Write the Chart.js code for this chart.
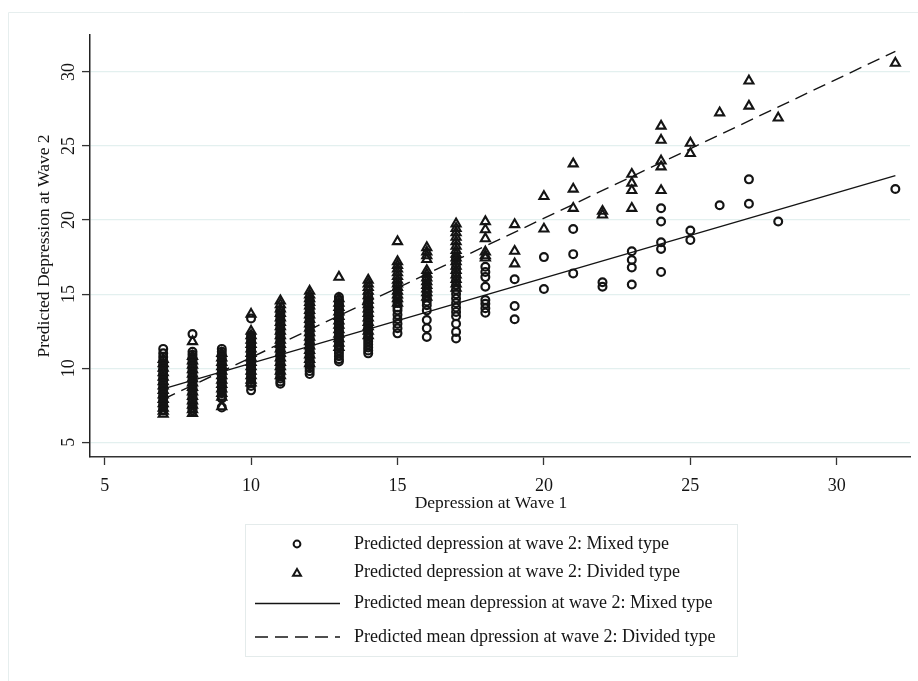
<!DOCTYPE html>
<html>
<head>
<meta charset="utf-8">
<script src="https://cdn.jsdelivr.net/npm/chart.js@4.4.1/dist/chart.umd.min.js"></script>
<style>
  html, body { margin: 0; padding: 0; background: #ffffff; }
  canvas { display: block; }
</style>
</head>
<body>
<canvas id="chart" width="918" height="681"></canvas>
<script>
// Depression score at wave 1 (x) for each column of predictions
const wave1Scores = [7, 8, 9, 10, 11, 12, 13, 14, 15, 16, 17, 18, 19, 20, 21, 22, 23, 24, 25, 26, 27, 28, 32];

// Predicted depression at wave 2, mixed type (one list per wave-1 score)
const mixedWave2 = [
  [11.3, 11.0, 10.75, 10.5, 10.3, 10.1, 9.9, 9.75, 9.55, 9.35, 9.15, 8.95, 8.75, 8.55, 8.35, 8.15, 7.95, 7.75, 7.55, 7.35, 7.15],
  [12.3, 11.1, 10.9, 10.7, 10.5, 10.3, 10.1, 9.9, 9.7, 9.5, 9.3, 9.1, 8.9, 8.7, 8.5, 8.3, 8.1, 7.9, 7.7, 7.5, 7.3, 7.15],
  [11.3, 11.1, 10.9, 10.7, 10.5, 10.3, 10.1, 9.9, 9.7, 9.5, 9.3, 9.1, 8.9, 8.7, 8.5, 8.3, 8.1, 7.95, 7.35],
  [13.35, 12.2, 12.0, 11.8, 11.6, 11.4, 11.2, 11.0, 10.8, 10.6, 10.4, 10.2, 10.0, 9.8, 9.6, 9.4, 9.2, 9.0, 8.8, 8.5],
  [13.9, 13.7, 13.5, 13.3, 13.1, 12.9, 12.7, 12.5, 12.3, 12.1, 11.9, 11.7, 11.5, 11.3, 11.1, 10.9, 10.7, 10.5, 10.3, 10.1, 9.9, 9.7, 9.5, 9.3, 9.1, 8.95],
  [14.6, 14.4, 14.2, 14.0, 13.8, 13.6, 13.4, 13.2, 13.0, 12.8, 12.6, 12.4, 12.2, 12.0, 11.8, 11.6, 11.4, 11.2, 11.0, 10.8, 10.6, 10.4, 10.2, 10.0, 9.8, 9.6],
  [14.8, 14.6, 14.4, 14.2, 14.0, 13.8, 13.6, 13.4, 13.2, 13.0, 12.8, 12.6, 12.4, 12.2, 12.0, 11.8, 11.6, 11.4, 11.2, 11.0, 10.8, 10.6, 10.45],
  [15.0, 14.8, 14.6, 14.4, 14.2, 14.0, 13.8, 13.6, 13.4, 13.2, 13.0, 12.8, 12.6, 12.4, 12.2, 12.0, 11.8, 11.6, 11.4, 11.2, 11.0],
  [15.6, 15.3, 15.0, 14.7, 14.4, 14.1, 13.9, 13.6, 13.3, 13.0, 12.7, 12.35],
  [16.0, 15.7, 15.4, 15.1, 14.8, 14.5, 14.25, 13.9, 13.25, 12.7, 12.1],
  [17.4, 17.1, 16.8, 16.5, 16.2, 15.9, 15.6, 15.3, 15.0, 14.7, 14.4, 14.1, 13.8, 13.5, 13.0, 12.45, 12.0],
  [16.85, 16.5, 16.15, 15.5, 14.6, 14.35, 14.05, 13.75],
  [16.0, 14.2, 13.3],
  [17.5, 15.35],
  [19.4, 17.7, 16.4],
  [15.8, 15.5],
  [17.9, 17.3, 16.8, 15.65],
  [20.8, 19.9, 18.5, 18.05, 16.5],
  [19.3, 18.65],
  [21.0],
  [22.75, 21.1],
  [19.9],
  [22.1]
];

// Predicted depression at wave 2, divided type (one list per wave-1 score)
const dividedWave2 = [
  [10.6, 10.3, 10.0, 9.7, 9.4, 9.1, 8.8, 8.5, 8.2, 7.9, 7.6, 7.3, 7.1, 6.9],
  [11.8, 10.8, 10.5, 10.2, 9.9, 9.6, 9.3, 9.0, 8.7, 8.4, 8.1, 7.8, 7.5, 7.2, 6.95],
  [11.0, 10.7, 10.4, 10.1, 9.8, 9.5, 9.2, 8.9, 8.6, 8.3, 8.05, 7.4],
  [13.65, 12.5, 12.2, 11.9, 11.6, 11.3, 11.0, 10.7, 10.4, 10.1, 9.8, 9.5, 9.2, 9.0],
  [14.55, 14.3, 14.0, 13.7, 13.4, 13.1, 12.8, 12.5, 12.2, 11.9, 11.6, 11.3, 11.0, 10.7, 10.4, 10.1, 9.8, 9.5],
  [15.2, 14.95, 14.7, 14.45, 14.2, 13.9, 13.6, 13.3, 13.0, 12.7, 12.4, 12.1, 11.8, 11.5, 11.2, 10.9, 10.6, 10.3],
  [16.15, 14.7, 14.4, 14.1, 13.8, 13.5, 13.2, 12.9, 12.6, 12.3, 12.0, 11.7, 11.4],
  [15.95, 15.7, 15.45, 15.2, 14.9, 14.6, 14.3, 14.0, 13.7, 13.4, 13.1, 12.8, 12.5, 12.2],
  [18.55, 17.2, 16.95, 16.7, 16.45, 16.2, 15.95, 15.7, 15.45, 15.2, 14.95, 14.7, 14.4],
  [18.15, 17.85, 17.6, 17.35, 16.6, 16.35, 16.1, 15.85, 15.6, 15.35, 15.1, 14.8],
  [19.75, 19.45, 19.15, 18.85, 18.55, 18.25, 17.95, 17.7, 17.45, 17.2, 16.9, 16.6, 16.3, 16.0, 15.7, 15.4],
  [19.9, 19.35, 18.75, 17.85, 17.6, 17.45],
  [19.7, 17.9, 17.05],
  [21.6, 19.4],
  [23.8, 22.1, 20.8],
  [20.6, 20.35],
  [23.1, 22.5, 22.0, 20.8],
  [26.35, 25.4, 24.0, 23.6, 22.0],
  [25.2, 24.5],
  [27.25],
  [29.4, 27.7],
  [26.9],
  [30.6]
];

// Fitted mean lines: values at the ends of the wave-1 range
const lineEnds = [7, 32];
const mixedMeanLine = [8.6, 23.0];
const dividedMeanLine = [7.9, 31.4];

// Axis ticks and labels
const xTickValues = [5, 10, 15, 20, 25, 30];
const yTickValues = [5, 10, 15, 20, 25, 30];
const xAxisTitle = 'Depression at Wave 1';
const yAxisTitle = 'Predicted Depression at Wave 2';
const seriesLabels = [
  'Predicted depression at wave 2: Mixed type',
  'Predicted depression at wave 2: Divided type',
  'Predicted mean depression at wave 2: Mixed type',
  'Predicted mean dpression at wave 2: Divided type'
];

const SERIF = "'Liberation Serif', 'Times New Roman', serif";
const INK = '#141414';
const GRID = '#e3f0ef';

function toPoints(values) {
  const pts = [];
  wave1Scores.forEach((x, i) => values[i].forEach(y => pts.push({ x, y })));
  return pts;
}
function linePoints(ys) {
  return lineEnds.map((x, i) => ({ x, y: ys[i] }));
}

function drawTriangle(ctx, x, y, r) {
  ctx.beginPath();
  for (let k = 0; k < 3; k++) {
    const a = k * 2 * Math.PI / 3;
    const px = x + Math.sin(a) * r, py = y - Math.cos(a) * r;
    if (k === 0) ctx.moveTo(px, py); else ctx.lineTo(px, py);
  }
  ctx.closePath();
  ctx.stroke();
}

// Graph frame, rotated y tick labels, axis titles and the boxed legend
const decorations = {
  id: 'decorations',
  beforeDraw(chart) {
    const ctx = chart.ctx;
    ctx.save();
    ctx.fillStyle = '#ffffff';
    ctx.fillRect(0, 0, chart.width, chart.height);
    ctx.strokeStyle = '#e6eeee';
    ctx.lineWidth = 1;
    ctx.beginPath();
    ctx.moveTo(8.5, chart.height);
    ctx.lineTo(8.5, 12.5);
    ctx.lineTo(chart.width, 12.5);
    ctx.stroke();
    ctx.restore();
  },
  afterDraw(chart) {
    const ctx = chart.ctx;
    const ys = chart.scales.y;
    ctx.save();
    ctx.fillStyle = INK;
    ctx.font = '18px ' + SERIF;
    ctx.textAlign = 'center';
    ctx.textBaseline = 'middle';
    ys.ticks.forEach((t, i) => {
      const py = ys.getPixelForTick(i);
      ctx.save();
      ctx.translate(69.5, py);
      ctx.rotate(-Math.PI / 2);
      ctx.fillText(String(t.value), 0, 0);
      ctx.restore();
    });

    // axis titles
    ctx.font = '17.5px ' + SERIF;
    ctx.fillText(xAxisTitle, 491, 503);
    ctx.save();
    ctx.translate(44, (chart.chartArea.top + chart.chartArea.bottom) / 2);
    ctx.rotate(-Math.PI / 2);
    ctx.fillText(yAxisTitle, 0, 0);
    ctx.restore();

    // legend
    ctx.strokeStyle = '#e4ebeb';
    ctx.lineWidth = 1;
    ctx.strokeRect(245.5, 524.5, 492, 132);
    const rows = [544, 572.5, 603.5, 637];
    ctx.font = '18px ' + SERIF;
    ctx.textAlign = 'left';
    chart.data.datasets.forEach((ds, i) => {
      const y = rows[i];
      ctx.save();
      ctx.strokeStyle = INK;
      if (i === 0) {
        ctx.lineWidth = 2;
        ctx.beginPath();
        ctx.arc(297, y, 3.4, 0, Math.PI * 2);
        ctx.stroke();
      } else if (i === 1) {
        ctx.lineWidth = 2;
        drawTriangle(ctx, 297, y + 1, 4.6);
      } else {
        ctx.lineWidth = 1.4;
        ctx.setLineDash(ds.borderDash || []);
        ctx.beginPath();
        ctx.moveTo(255, y);
        ctx.lineTo(340, y);
        ctx.stroke();
      }
      ctx.restore();
      ctx.fillText(ds.label, 354, y);
    });
    ctx.restore();
  }
};

new Chart(document.getElementById('chart'), {
  type: 'scatter',
  data: {
    datasets: [
      {
        label: seriesLabels[0],
        data: toPoints(mixedWave2),
        pointStyle: 'circle',
        pointRadius: 3.9,
        pointBorderWidth: 2.2,
        borderColor: INK,
        backgroundColor: 'rgba(0,0,0,0)',
        pointHoverRadius: 3.9
      },
      {
        label: seriesLabels[1],
        data: toPoints(dividedWave2),
        pointStyle: 'triangle',
        pointRadius: 5.2,
        pointBorderWidth: 2.1,
        borderColor: INK,
        backgroundColor: 'rgba(0,0,0,0)',
        pointHoverRadius: 5.2
      },
      {
        label: seriesLabels[2],
        data: linePoints(mixedMeanLine),
        showLine: true,
        borderColor: INK,
        borderWidth: 1.4,
        pointRadius: 0,
        fill: false
      },
      {
        label: seriesLabels[3],
        data: linePoints(dividedMeanLine),
        showLine: true,
        borderColor: INK,
        borderWidth: 1.4,
        borderDash: [13, 7],
        pointRadius: 0,
        fill: false
      }
    ]
  },
  options: {
    responsive: false,
    animation: false,
    events: [],
    layout: { padding: { left: 0, right: 8, top: 35, bottom: 0 } },
    plugins: {
      legend: { display: false },
      tooltip: { enabled: false },
      title: { display: false }
    },
    scales: {
      x: {
        type: 'linear',
        position: 'bottom',
        min: 4.5,
        max: 32.5,
        afterBuildTicks: s => { s.ticks = xTickValues.map(v => ({ value: v })); },
        afterFit: s => { s.height = 224; },
        border: { display: true, color: '#333333', width: 1.5 },
        grid: { drawOnChartArea: false, drawTicks: true, tickLength: 8, tickColor: '#333333', tickWidth: 1.3 },
        ticks: { color: INK, font: { family: SERIF, size: 18 }, padding: 10, maxRotation: 0 },
        title: { display: false }
      },
      y: {
        type: 'linear',
        position: 'left',
        min: 4,
        max: 32.5,
        afterBuildTicks: s => { s.ticks = yTickValues.map(v => ({ value: v })); },
        afterFit: s => { s.width = 90; },
        border: { display: true, color: '#222222', width: 1.5 },
        grid: { drawOnChartArea: true, color: GRID, lineWidth: 1.2, drawTicks: true, tickLength: 8, tickColor: '#333333', tickWidth: 1.3 },
        ticks: { display: false },
        title: { display: false }
      }
    }
  },
  plugins: [decorations]
});
</script>
</body>
</html>
